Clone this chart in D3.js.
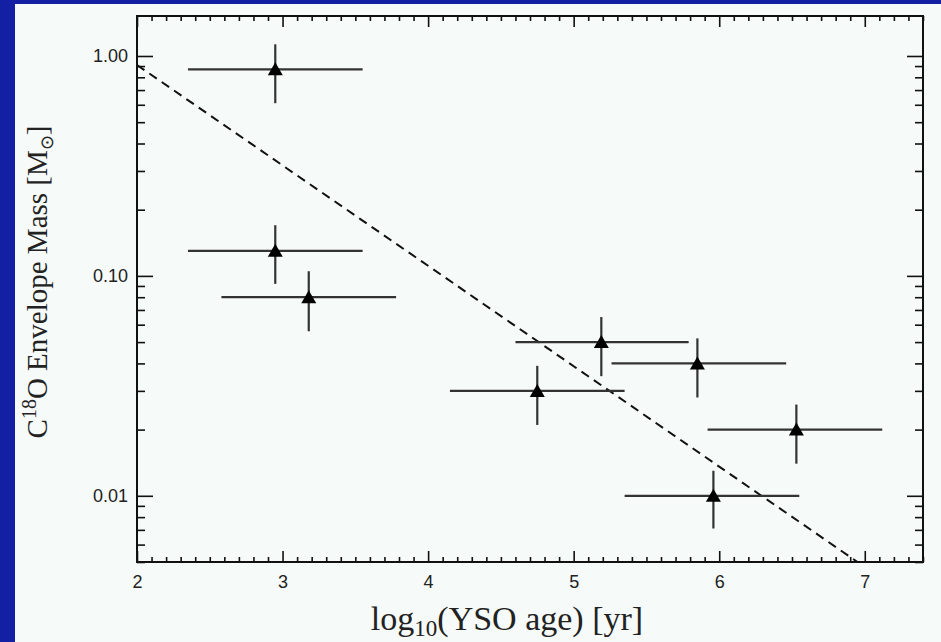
<!DOCTYPE html>
<html>
<head>
<meta charset="utf-8">
<script src="https://cdn.jsdelivr.net/npm/d3@7"></script>
<style>
  body { margin: 0; background: #1420a4; }
  svg { display: block; }
  .tick text { font-family: "Liberation Sans", Arial, sans-serif; font-size: 18px; fill: #222; }
  .tick line { stroke: #111; stroke-width: 1.6; }
  .title { font-family: "Liberation Serif", "Times New Roman", serif; fill: #222; }
</style>
</head>
<body>
<svg id="chart" width="941" height="642"></svg>
<script>
// log10 of YSO age [yr], with horizontal error range
const ages   = [2.95, 2.95, 3.18, 4.75, 5.19, 5.85, 6.53, 5.96];
const ageLo  = [2.35, 2.35, 2.58, 4.15, 4.60, 5.26, 5.92, 5.35];
const ageHi  = [3.55, 3.55, 3.78, 5.35, 5.79, 6.46, 7.12, 6.55];
// C18O envelope mass [Msun], with vertical error range
const masses = [0.87, 0.13, 0.080, 0.030, 0.050, 0.040, 0.020, 0.010];
const massLo = [0.61, 0.092, 0.056, 0.021, 0.035, 0.028, 0.014, 0.0071];
const massHi = [1.13, 0.17, 0.105, 0.039, 0.065, 0.052, 0.026, 0.013];
// dashed fit line end points
const fitAge  = [2.0, 6.95];
const fitMass = [0.91, 0.005];
// tick labels
const xTickLabels = ["2", "3", "4", "5", "6", "7"];
const yTickLabels = ["0.01", "0.10", "1.00"];

const svg = d3.select('#chart');
const pLeft = 137, pRight = 923, pTop = 16, pBottom = 562;

const x = d3.scaleLinear().domain([2, 7.4]).range([pLeft, pRight]);
const y = d3.scaleLog().domain([0.005, 1.52]).range([pBottom, pTop]);

// white panel
svg.append('rect')
    .attr('x', 15).attr('y', 4)
    .attr('width', 941 - 15).attr('height', 642 - 4)
    .attr('fill', '#f6faf8');

const xMajor = d3.range(2, 8);
const xMinor = x.ticks(54).filter(v => Math.abs(v - Math.round(v)) > 1e-6);
const yMajor = [0.01, 0.1, 1];
const yMinor = y.ticks().filter(v => !yMajor.some(m => Math.abs(v - m) < 1e-9));

function addAxis(axis, transform) {
    const g = svg.append('g').attr('transform', transform).call(axis);
    g.select('.domain').remove();
    return g;
}

// bottom
addAxis(d3.axisBottom(x).tickValues(xMajor).tickSize(-11).tickPadding(13)
    .tickFormat((d, i) => xTickLabels[i]), `translate(0,${pBottom})`);
addAxis(d3.axisBottom(x).tickValues(xMinor).tickSize(-5).tickFormat(''), `translate(0,${pBottom})`);
// top
addAxis(d3.axisTop(x).tickValues(xMajor).tickSize(-11).tickFormat(''), `translate(0,${pTop})`);
addAxis(d3.axisTop(x).tickValues(xMinor).tickSize(-5).tickFormat(''), `translate(0,${pTop})`);
// left
addAxis(d3.axisLeft(y).tickValues(yMajor).tickSize(-16).tickPadding(9)
    .tickFormat((d, i) => yTickLabels[i]), `translate(${pLeft},0)`);
addAxis(d3.axisLeft(y).tickValues(yMinor).tickSize(-8).tickFormat(''), `translate(${pLeft},0)`);
// right
addAxis(d3.axisRight(y).tickValues(yMajor).tickSize(-16).tickFormat(''), `translate(${pRight},0)`);
addAxis(d3.axisRight(y).tickValues(yMinor).tickSize(-8).tickFormat(''), `translate(${pRight},0)`);

// frame
svg.append('rect')
    .attr('x', pLeft).attr('y', pTop)
    .attr('width', pRight - pLeft).attr('height', pBottom - pTop)
    .attr('fill', 'none').attr('stroke', '#111').attr('stroke-width', 2);

// fit line
svg.append('clipPath').attr('id', 'plotclip')
    .append('rect').attr('x', pLeft).attr('y', pTop)
    .attr('width', pRight - pLeft).attr('height', pBottom - pTop);

const fit = fitAge.map((a, i) => [a, fitMass[i]]);
svg.append('path')
    .datum(fit)
    .attr('clip-path', 'url(#plotclip)')
    .attr('d', d3.line().x(d => x(d[0])).y(d => y(d[1])))
    .attr('fill', 'none')
    .attr('stroke', '#111')
    .attr('stroke-width', 2)
    .attr('stroke-dasharray', '9,6');

// points with error bars
const points = ages.map((a, i) => ({
    age: a, lo: ageLo[i], hi: ageHi[i],
    mass: masses[i], mlo: massLo[i], mhi: massHi[i]
}));

const pts = svg.append('g').selectAll('g').data(points).join('g');

pts.append('line')
    .attr('x1', d => x(d.lo)).attr('x2', d => x(d.hi))
    .attr('y1', d => y(d.mass)).attr('y2', d => y(d.mass))
    .attr('stroke', '#333').attr('stroke-width', 2.2);

pts.append('line')
    .attr('x1', d => x(d.age)).attr('x2', d => x(d.age))
    .attr('y1', d => y(d.mlo)).attr('y2', d => y(d.mhi))
    .attr('stroke', '#333').attr('stroke-width', 2.2);

pts.append('path')
    .attr('transform', d => `translate(${x(d.age)},${y(d.mass)})`)
    .attr('d', 'M0,-7L7.5,6L-7.5,6Z')
    .attr('fill', '#000');

// axis titles
const xt = svg.append('text').attr('class', 'title')
    .attr('x', 507).attr('y', 630)
    .attr('text-anchor', 'middle')
    .style('font-size', '34px');
xt.append('tspan').text('log');
xt.append('tspan').attr('dy', 6).style('font-size', '23px').text('10');
xt.append('tspan').attr('dy', -6).text('(YSO age) [yr]');

const yt = svg.append('text').attr('class', 'title')
    .attr('transform', 'translate(47,282) rotate(-90)')
    .attr('text-anchor', 'middle')
    .style('font-size', '29px');
yt.append('tspan').text('C');
yt.append('tspan').attr('dy', -11).style('font-size', '20px').text('18');
yt.append('tspan').attr('dy', 11).text('O Envelope Mass [M');
yt.append('tspan').attr('dy', 6).style('font-size', '18px').text('⊙');
yt.append('tspan').attr('dy', -6).text(']');
</script>
</body>
</html>
